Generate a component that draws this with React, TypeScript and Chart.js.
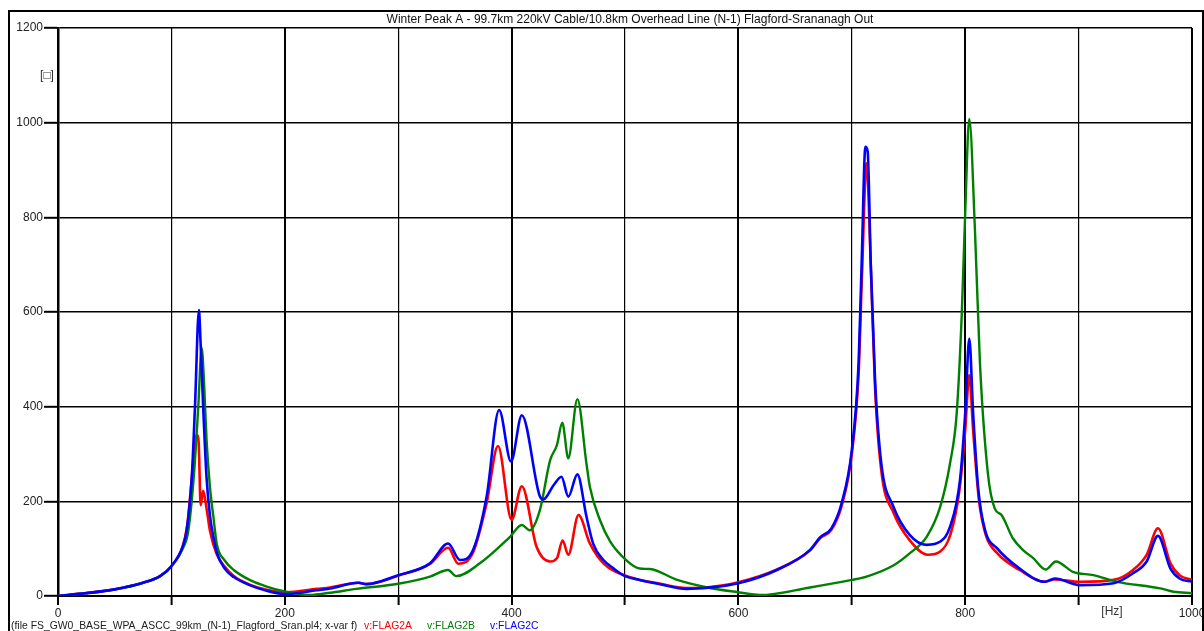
import React, { useEffect, useRef } from "react";
import { Chart, registerables } from "chart.js";

Chart.register(...registerables);

const titleText = "Winter Peak A - 99.7km 220kV Cable/10.8km Overhead Line (N-1) Flagford-Srananagh Out";
const fileText = "(file FS_GW0_BASE_WPA_ASCC_99km_(N-1)_Flagford_Sran.pl4; x-var f)";
const seriesNames = ["v:FLAG2A", "v:FLAG2B", "v:FLAG2C"];
const xUnit = "[Hz]";
const yUnit = "[\u25A1]";

// FLAG2A (red)
const freqA = [0, 25, 50, 75, 90, 100, 110, 114, 118, 121, 122.5, 124, 125.8, 128, 131, 134, 140, 147, 155, 169, 184, 201, 228, 240, 265, 272, 300, 328, 344, 353, 366, 378, 388, 400, 409, 422, 434, 440, 445, 450, 459, 469, 481, 504, 531, 554, 575, 600, 634, 663, 672, 682, 691, 700, 706, 709, 713, 717, 720.5, 726, 737, 751, 767, 778, 787, 795, 800, 803.6, 807, 812, 818, 828, 848, 870, 879, 901, 931, 948, 960, 970, 981, 989, 1000];
const valA = [0, 6, 14, 28, 42, 63, 105, 150, 250, 330, 340, 325, 192, 222, 185, 138, 88, 62, 42, 24, 13, 8, 15, 18, 28, 25, 43, 68, 102, 68, 92, 196, 317, 161, 232, 104, 73, 80, 117, 87, 171, 111, 69, 40, 26, 17, 19, 29, 56, 96, 122, 140, 190, 300, 470, 680, 914, 680, 440, 265, 175, 118, 87, 94, 130, 225, 350, 467, 350, 205, 130, 91, 55, 30, 35, 30, 34, 55, 87, 143, 69, 44, 34];

// FLAG2B (green)
const freqB = [0, 25, 50, 75, 90, 100, 110, 115, 120, 123.7, 126.7, 129, 131, 134, 137, 140, 147, 155, 169, 184, 201, 222, 240, 263, 300, 328, 344, 351, 372, 398.6, 409, 416, 425, 434, 440, 444.7, 450, 458, 466, 469, 478, 487, 501, 513, 522, 546, 575, 600, 619, 663, 700, 713, 737, 751, 766, 778, 786.6, 792.5, 797, 800, 803.6, 808.6, 813, 820, 826, 832, 842, 851, 860, 871, 880, 895, 913, 934, 972, 983.5, 1000];
const valB = [0, 6, 14, 28, 42, 63, 100, 139, 260, 400, 524, 440, 330, 230, 168, 110, 75, 55, 34, 20, 9, 2, 7, 15, 26, 41, 55, 42, 69, 125, 150, 139, 182, 287, 319, 366, 291, 416, 280, 231, 160, 115, 76, 58, 57, 34, 17, 8, 2, 18, 34, 41, 65, 90, 125, 189, 280, 386, 597, 809, 1008, 773, 492, 259, 185, 171, 122, 97, 80, 56, 73, 51, 44, 30, 16, 9, 6];

// FLAG2C (blue)
const freqC = [0, 25, 50, 75, 90, 100, 110, 113.5, 118, 120.8, 124.3, 125.3, 128, 131, 134, 137, 140, 147, 155, 169, 184, 201, 228, 240, 265, 272, 300, 328, 344, 354.5, 366, 378, 389, 399.5, 409, 425, 428, 437, 444, 450, 458, 466, 472, 481, 490, 500, 513, 531, 554, 575, 600, 634, 663, 672, 682, 691, 700, 706, 708.7, 712, 714, 716.7, 720.5, 726, 736.6, 751, 766, 778, 786.6, 795.4, 800, 803.6, 807, 811.6, 817.5, 828, 848, 870, 879, 901, 931, 948, 960, 970, 981, 989, 1000];
const valC = [0, 6, 14, 28, 42, 63, 105, 139, 252, 400, 604, 560, 400, 250, 170, 125, 92, 58, 40, 23, 11, 4, 12, 16, 28, 25, 44, 69, 111, 76, 97, 210, 393, 284, 382, 210, 204, 234, 252, 210, 257, 168, 110, 76, 58, 42, 34, 25, 15, 18, 27, 55, 97, 124, 143, 196, 308, 492, 703, 949, 939, 703, 456, 280, 189, 129, 108, 115, 146, 245, 386, 544, 386, 224, 139, 101, 58, 30, 37, 23, 27, 48, 73, 127, 58, 37, 30];

const xTicks = [0, 200, 400, 600, 800, 1000];

const toPts = (f: number[], v: number[]) => f.map((x, i) => ({ x, y: v[i] }));

const FONT = "'Liberation Sans', Arial, sans-serif";

const decor = {
  id: "decor",
  afterDraw(chart: any) {
    const ctx = chart.ctx;
    ctx.save();
    ctx.strokeStyle = "#000";
    ctx.lineWidth = 2;
    ctx.strokeRect(9, 11, 1194, 700);
    ctx.fillStyle = "#111";
    ctx.font = `12px ${FONT}`;
    ctx.textAlign = "center";
    ctx.textBaseline = "middle";
    ctx.fillText(titleText, 630, 19.5);
    // y unit
    ctx.font = `12px ${FONT}`;
    ctx.fillStyle = "#333";
    ctx.textAlign = "center";
    ctx.fillText(yUnit, 47, 76);
    // x unit
    ctx.fillText(xUnit, 1112, 612);
    // bottom legend
    ctx.font = `10.4px ${FONT}`;
    ctx.textAlign = "left";
    ctx.fillStyle = "#222";
    ctx.fillText(fileText, 11, 626);
    const cols = ["#ff0000", "#008000", "#0000ff"];
    const xs = [364, 427, 490];
    seriesNames.forEach((n, i) => {
      ctx.fillStyle = cols[i];
      ctx.fillText(n, xs[i], 626);
    });
    ctx.restore();
  },
};

export default function App() {
  const ref = useRef<HTMLCanvasElement>(null);
  useEffect(() => {
    if (!ref.current) return;
    const chart = new Chart(ref.current, {
      type: "line",
      data: {
        datasets: [
          { label: seriesNames[0], data: toPts(freqA, valA), order: 2, borderColor: "#ff0000", borderWidth: 2.6, pointRadius: 0, cubicInterpolationMode: "monotone", fill: false },
          { label: seriesNames[1], data: toPts(freqB, valB), order: 1, borderColor: "#008000", borderWidth: 2.4, pointRadius: 0, cubicInterpolationMode: "monotone", fill: false },
          { label: seriesNames[2], data: toPts(freqC, valC), order: 0, borderColor: "#0000ff", borderWidth: 2.6, pointRadius: 0, cubicInterpolationMode: "monotone", fill: false },
        ],
      },
      options: {
        animation: false,
        responsive: false,
        maintainAspectRatio: false,
        layout: { padding: { left: 8, right: 12, top: 28, bottom: 0 } },
        plugins: { legend: { display: false }, title: { display: false }, tooltip: { enabled: false } },
        scales: {
          x: {
            type: "linear",
            min: 0,
            max: 1000,
            afterBuildTicks: (s: any) => {
              s.ticks = [0, 100, 200, 300, 400, 500, 600, 700, 800, 900, 1000].map((v) => ({ value: v }));
            },
            afterFit: (s: any) => {
              s.height = 35;
              s.paddingLeft = 0;
              s.paddingRight = 0;
            },
            ticks: {
              autoSkip: false,
              maxRotation: 0,
              padding: 1,
              color: "#222",
              font: { family: FONT, size: 12 },
              callback: (v: any) => (xTicks.includes(Number(v)) ? String(v) : ""),
            },
            grid: {
              color: "#000",
              lineWidth: (c: any) => (c.tick && c.tick.value % 200 === 0 ? 2 : 1.2),
              tickLength: 9,
              tickWidth: 2,
              tickColor: "#000",
            },
            border: { display: true, color: "#000", width: 2 },
          },
          y: {
            min: 0,
            max: 1200,
            afterFit: (s: any) => {
              s.width = 50;
              s.paddingTop = 0;
              s.paddingBottom = 0;
            },
            ticks: {
              stepSize: 200,
              padding: 1,
              color: "#222",
              font: { family: FONT, size: 12 },
              callback: (v: any) => String(v),
            },
            grid: {
              color: "#000",
              lineWidth: 1.6,
              tickLength: 14,
              tickWidth: 2,
              tickColor: "#000",
            },
            border: { display: true, color: "#000", width: 2.5 },
          },
        },
      },
      plugins: [decor],
    });
    return () => chart.destroy();
  }, []);
  return (
    <div style={{ position: "fixed", left: 0, top: 0, width: 1204, height: 631, background: "#fff" }}>
      <canvas ref={ref} width={1204} height={631} style={{ width: 1204, height: 631, display: "block" }} />
    </div>
  );
}
